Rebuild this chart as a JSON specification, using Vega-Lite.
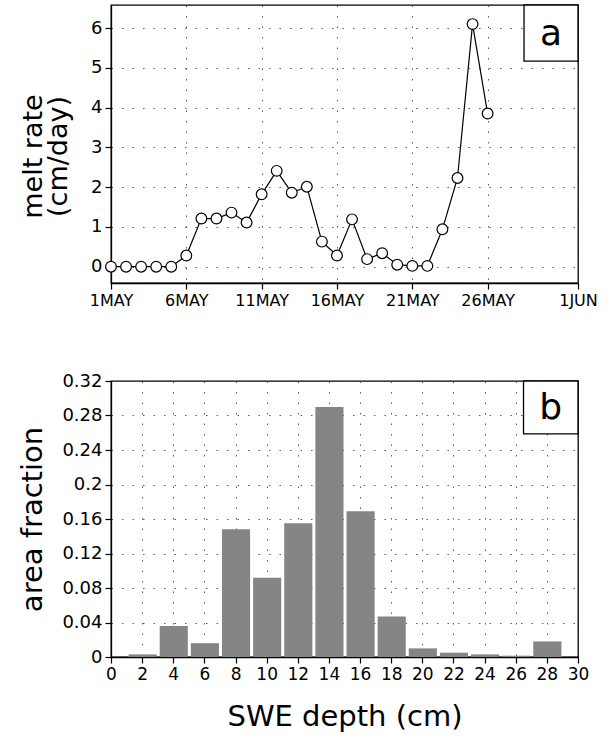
{
  "$schema": "https://vega.github.io/schema/vega-lite/v6.json",
  "background": "white",
  "padding": {"left": 18, "top": 3, "right": 5, "bottom": 5},
  "spacing": 62,
  "config": {
    "font": "DejaVu Sans",
    "view": {"stroke": "black", "strokeWidth": 1.3},
    "axis": {
      "domainColor": "black", "domainWidth": 1.3,
      "tickColor": "black", "tickSize": 6, "tickWidth": 1.2,
      "labelColor": "black", "labelFontSize": 18, "labelPadding": 3, "labelOverlap": false, "labelFlush": false,
      "titleColor": "black", "titleFontWeight": "normal", "titleFontSize": 28,
      "grid": true, "gridColor": "#333333", "gridDash": [1.5, 9], "gridWidth": 1, "gridOpacity": 0.8
    }
  },
  "vconcat": [
    {
      "width": 467,
      "height": 278,
      "data": {"values": [
        {"date": "2000-05-01T00:00:00", "melt": 0},
        {"date": "2000-05-02T00:00:00", "melt": 0},
        {"date": "2000-05-03T00:00:00", "melt": 0},
        {"date": "2000-05-04T00:00:00", "melt": 0},
        {"date": "2000-05-05T00:00:00", "melt": 0},
        {"date": "2000-05-06T00:00:00", "melt": 0.28},
        {"date": "2000-05-07T00:00:00", "melt": 1.21},
        {"date": "2000-05-08T00:00:00", "melt": 1.21},
        {"date": "2000-05-09T00:00:00", "melt": 1.36},
        {"date": "2000-05-10T00:00:00", "melt": 1.11},
        {"date": "2000-05-11T00:00:00", "melt": 1.82},
        {"date": "2000-05-12T00:00:00", "melt": 2.41},
        {"date": "2000-05-13T00:00:00", "melt": 1.86},
        {"date": "2000-05-14T00:00:00", "melt": 2.01},
        {"date": "2000-05-15T00:00:00", "melt": 0.63},
        {"date": "2000-05-16T00:00:00", "melt": 0.28},
        {"date": "2000-05-17T00:00:00", "melt": 1.19},
        {"date": "2000-05-18T00:00:00", "melt": 0.19},
        {"date": "2000-05-19T00:00:00", "melt": 0.34},
        {"date": "2000-05-20T00:00:00", "melt": 0.05},
        {"date": "2000-05-21T00:00:00", "melt": 0.02},
        {"date": "2000-05-22T00:00:00", "melt": 0.02},
        {"date": "2000-05-23T00:00:00", "melt": 0.94},
        {"date": "2000-05-24T00:00:00", "melt": 2.23},
        {"date": "2000-05-25T00:00:00", "melt": 6.1},
        {"date": "2000-05-26T00:00:00", "melt": 3.85}
      ]},
      "encoding": {
        "x": {
          "field": "date", "type": "temporal",
          "scale": {"domain": [{"year": 2000, "month": 5, "date": 1}, {"year": 2000, "month": 6, "date": 1}], "nice": false},
          "axis": {
            "title": null,
            "values": [
              {"year": 2000, "month": 5, "date": 1},
              {"year": 2000, "month": 5, "date": 6},
              {"year": 2000, "month": 5, "date": 11},
              {"year": 2000, "month": 5, "date": 16},
              {"year": 2000, "month": 5, "date": 21},
              {"year": 2000, "month": 5, "date": 26},
              {"year": 2000, "month": 6, "date": 1}
            ],
            "labelExpr": "upper(timeFormat(datum.value, '%-d%b'))",
            "labelFontSize": 16
          }
        },
        "y": {
          "field": "melt", "type": "quantitative",
          "scale": {"domain": [-0.41, 6.58], "nice": false, "zero": false},
          "axis": {
            "values": [0, 1, 2, 3, 4, 5, 6], "format": "d",
            "title": ["melt rate", "(cm/day)"],
            "titleFontSize": 27, "titleLineHeight": 25, "titlePadding": 18, "titleY": 151
          }
        }
      },
      "layer": [
        {"mark": {"type": "line", "color": "black", "strokeWidth": 1.2}},
        {"mark": {"type": "point", "shape": "circle", "filled": true, "fill": "white", "stroke": "black", "strokeWidth": 1.2, "size": 115, "opacity": 1}},
        {
          "data": {"values": [{"x1": "2000-05-28T10:00:00", "x2": "2000-06-01T00:00:00", "y1": 5.17, "y2": 6.58}]},
          "mark": {"type": "rect", "fill": "white", "stroke": "black", "strokeWidth": 1.3},
          "encoding": {
            "x": {"field": "x1", "type": "temporal"},
            "x2": {"field": "x2"},
            "y": {"field": "y1", "type": "quantitative"},
            "y2": {"field": "y2"}
          }
        },
        {
          "data": {"values": [{"lx": "2000-05-30T05:00:00", "ly": 5.85, "label": "a"}]},
          "mark": {"type": "text", "fontSize": 36, "align": "center", "baseline": "middle", "color": "black"},
          "encoding": {
            "x": {"field": "lx", "type": "temporal"},
            "y": {"field": "ly", "type": "quantitative"},
            "text": {"field": "label"}
          }
        }
      ]
    },
    {
      "width": 467,
      "height": 276,
      "encoding": {
        "y": {
          "type": "quantitative",
          "scale": {"domain": [0, 0.32], "nice": false},
          "axis": {
            "values": [0, 0.04, 0.08, 0.12, 0.16, 0.2, 0.24, 0.28, 0.32],
            "tickCount": 9,
            "format": "~g",
            "title": "area fraction", "titleFontSize": 29, "titlePadding": 14
          }
        }
      },
      "layer": [
        {
          "data": {"values": [
            {"bin_start": 1, "bin_end": 3, "frac": 0.003},
            {"bin_start": 3, "bin_end": 5, "frac": 0.036},
            {"bin_start": 5, "bin_end": 7, "frac": 0.016},
            {"bin_start": 7, "bin_end": 9, "frac": 0.148},
            {"bin_start": 9, "bin_end": 11, "frac": 0.092},
            {"bin_start": 11, "bin_end": 13, "frac": 0.155},
            {"bin_start": 13, "bin_end": 15, "frac": 0.29},
            {"bin_start": 15, "bin_end": 17, "frac": 0.169},
            {"bin_start": 17, "bin_end": 19, "frac": 0.047},
            {"bin_start": 19, "bin_end": 21, "frac": 0.01},
            {"bin_start": 21, "bin_end": 23, "frac": 0.005},
            {"bin_start": 23, "bin_end": 25, "frac": 0.003},
            {"bin_start": 25, "bin_end": 27, "frac": 0.0015},
            {"bin_start": 27, "bin_end": 29, "frac": 0.018}
          ]},
          "mark": {"type": "bar", "color": "#858585", "binSpacing": 3},
          "encoding": {
            "x": {
              "field": "bin_start", "type": "quantitative", "bin": {"binned": true, "step": 2},
              "scale": {"domain": [0, 30], "nice": false, "zero": false},
              "axis": {
                "values": [0, 2, 4, 6, 8, 10, 12, 14, 16, 18, 20, 22, 24, 26, 28, 30],
                "format": "d", "labelFontSize": 17,
                "title": "SWE depth (cm)", "titleFontSize": 29, "titlePadding": 20
              }
            },
            "x2": {"field": "bin_end"},
            "y": {"field": "frac"}
          }
        },
        {
          "data": {"values": [{"x1": 26.5, "x2": 30, "y1": 0.2586, "y2": 0.32}]},
          "mark": {"type": "rect", "fill": "white", "stroke": "black", "strokeWidth": 1.3},
          "encoding": {
            "x": {"field": "x1", "type": "quantitative"},
            "x2": {"field": "x2"},
            "y": {"field": "y1"},
            "y2": {"field": "y2"}
          }
        },
        {
          "data": {"values": [{"lx": 28.25, "ly": 0.289, "label": "b"}]},
          "mark": {"type": "text", "fontSize": 36, "align": "center", "baseline": "middle", "color": "black"},
          "encoding": {
            "x": {"field": "lx", "type": "quantitative"},
            "y": {"field": "ly"},
            "text": {"field": "label"}
          }
        }
      ]
    }
  ]
}
